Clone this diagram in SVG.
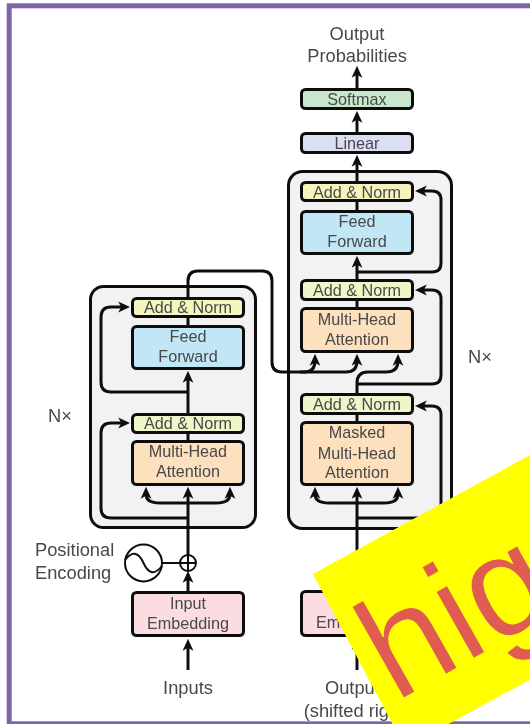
<svg xmlns="http://www.w3.org/2000/svg" width="530" height="724" viewBox="0 0 530 724">
<style>
text{font-family:"Liberation Sans",Arial,sans-serif;fill:#484848;text-anchor:middle}
.s{font-size:16.2px}.l{font-size:18.3px}.st{text-anchor:start}
.n{stroke:#111;stroke-width:3}
.c{fill:none;stroke:#111;stroke-width:3;marker-end:url(#a)}
.p{fill:none;stroke:#111;stroke-width:3}
.t{fill:none;stroke:#111;stroke-width:2}
.o{fill:#f2f2f2;stroke:#111;stroke-width:3}
.an{fill:#f4f4bd}.ag{fill:#eff6c9}.ff{fill:#c1e6f6}.mh{fill:#fde0bd}.em{fill:#fbdde1}
</style>
<defs>
<marker id="a" markerUnits="userSpaceOnUse" markerWidth="12" markerHeight="12" viewBox="0 0 10 10" refX="4" refY="5" orient="auto"><path d="M0 0.500L10 5L0 9.500L2.500 5Z" fill="#111"/></marker>
<filter id="b" x="-5%" y="-5%" width="110%" height="110%"><feGaussianBlur stdDeviation="0.5"/></filter>
</defs>
<rect id="frame" x="9.2" y="5.8" width="600" height="718" fill="#fff" stroke="#8064a8" stroke-width="5"/>
<g filter="url(#b)">
<g id="encoder-stack"><rect class="o" x="90.500" y="286.500" width="165" height="241" rx="13"/></g>
<g id="decoder-stack"><rect class="o" x="288.500" y="171.500" width="163" height="357" rx="14"/></g>
<g id="connectors">
<path class="c" d="M357 88V73"/>
<path class="c" d="M357 132V118"/>
<path class="c" d="M357 181V162"/>
<path class="p" d="M357 210V200"/>
<path class="c" d="M357 279V263"/>
<path class="p" d="M357 307V299"/>
<path class="c" d="M357 272H432Q441 272 441 263V200Q441 191 432 191H422"/>
<path class="c" d="M357 384H432Q441 384 441 375V299Q441 290 432 290H422"/>
<path class="c" d="M357 518H432Q441 518 441 509V415Q441 406 432 406H422"/>
<path class="c" d="M357 393V383Q357 372 368 372H386Q398 372 398 361"/>
<path class="p" d="M357 421V413"/>
<path class="c" d="M188 300V281Q188 271 198 271H262Q272 271 272 281V362Q272 372 282 372H304Q315 372 315 361"/>
<path class="c" d="M300 372H346Q357 372 357 361"/>
<path class="c" d="M357 590V494"/>
<path class="c" d="M357 503H329Q315 503 315 494"/>
<path class="c" d="M357 503H384Q398 503 398 494"/>
<path class="c" d="M357 670V645"/>
<path class="c" d="M188 555V494"/>
<path class="c" d="M188 503H160Q146 503 146 494"/>
<path class="c" d="M188 503H216Q230 503 230 494"/>
<path class="p" d="M188 325V316"/>
<path class="c" d="M188 413V378"/>
<path class="p" d="M188 440V431"/>
<path class="c" d="M188 392H111Q101 392 101 382V317Q101 307 111 307H123"/>
<path class="c" d="M188 518H111Q101 518 101 508V433Q101 423 111 423H123"/>
<path class="c" d="M188 591V578"/>
<path class="c" d="M188 670V646"/>
<path class="t" d="M162 563H180"/>
</g>
<g id="encoder-add-norm-2"><rect class="n an" x="132.500" y="298.500" width="111" height="18" rx="4"/><text class="s" x="188" y="313">Add &amp; Norm</text></g>
<g id="encoder-feed-forward"><rect class="n ff" x="132.500" y="326.500" width="111" height="42" rx="4"/><text class="s" x="188" y="342">Feed</text><text class="s" x="188" y="362">Forward</text></g>
<g id="encoder-add-norm-1"><rect class="n ag" x="132.500" y="414.500" width="111" height="18" rx="4"/><text class="s" x="188" y="429">Add &amp; Norm</text></g>
<g id="encoder-attention"><rect class="n mh" x="132.500" y="441.500" width="111" height="43" rx="4"/><text class="s" x="188" y="457">Multi-Head</text><text class="s" x="188" y="477">Attention</text></g>
<g id="input-embedding"><rect class="n em" x="132.500" y="592.500" width="111" height="43" rx="4"/><text class="s" x="188" y="609">Input</text><text class="s" x="188" y="629">Embedding</text></g>
<g id="encoder-add"><circle cx="188" cy="563" r="8" fill="#fff" stroke="#111" stroke-width="2"/><path class="t" d="M180 563H196M188 555V571"/></g>
<g id="encoder-positional"><circle cx="143.500" cy="563" r="18.500" fill="#fff" stroke="#111" stroke-width="2"/><path class="t" d="M125 560C133 550 139 553 143.500 563C148 573 154 576 162 566"/></g>
<g id="decoder-softmax"><rect class="n" fill="#c9e7cf" x="301.500" y="89.500" width="111" height="19" rx="4"/><text class="s" x="357" y="105">Softmax</text></g>
<g id="decoder-linear"><rect class="n" fill="#dcdff3" x="301.500" y="133.500" width="111" height="19" rx="4"/><text class="s" x="357" y="149">Linear</text></g>
<g id="decoder-add-norm-3"><rect class="n an" x="301.500" y="182.500" width="111" height="18" rx="4"/><text class="s" x="357" y="198">Add &amp; Norm</text></g>
<g id="decoder-feed-forward"><rect class="n ff" x="301.500" y="211.500" width="111" height="42" rx="4"/><text class="s" x="357" y="227">Feed</text><text class="s" x="357" y="247">Forward</text></g>
<g id="decoder-add-norm-2"><rect class="n ag" x="301.500" y="280.500" width="111" height="19" rx="4"/><text class="s" x="357" y="296">Add &amp; Norm</text></g>
<g id="decoder-attention"><rect class="n mh" x="301.500" y="308.500" width="111" height="43" rx="4"/><text class="s" x="357" y="325">Multi-Head</text><text class="s" x="357" y="345">Attention</text></g>
<g id="decoder-add-norm-1"><rect class="n ag" x="301.500" y="394.500" width="111" height="19" rx="4"/><text class="s" x="357" y="410">Add &amp; Norm</text></g>
<g id="decoder-masked-attention"><rect class="n mh" x="301.500" y="422.500" width="111" height="62" rx="4"/><text class="s" x="357" y="438">Masked</text><text class="s" x="357" y="459">Multi-Head</text><text class="s" x="357" y="478">Attention</text></g>
<g id="output-embedding"><rect class="n em" x="301.500" y="591.500" width="111" height="44" rx="4"/><text class="s" x="357" y="609">Output</text><text class="s" x="357" y="628">Embedding</text></g>
<g id="labels">
<text class="l" x="357" y="40">Output</text><text class="l" x="357" y="62">Probabilities</text>
<text class="l st" x="48" y="422">N×</text><text class="l st" x="468" y="363">N×</text>
<text class="l st" x="35" y="556">Positional</text><text class="l st" x="35" y="579">Encoding</text>
<text class="l" x="188" y="694">Inputs</text>
<text class="l" x="357" y="694">Outputs</text><text class="l" x="357" y="717">(shifted right)</text>
</g>
</g>
<g id="highlight">
<polygon points="313,574 530,455 640,455 640,620 443,727 394,727" fill="#ffff00"/>
<text x="395" y="703" transform="rotate(-29.500 395 703)" stroke="#ffff00" stroke-width="0.800" style="font-family:'Liberation Sans',Arial,sans-serif;font-size:145px;fill:#e05c52;text-anchor:start">hig</text>
</g>
</svg>
